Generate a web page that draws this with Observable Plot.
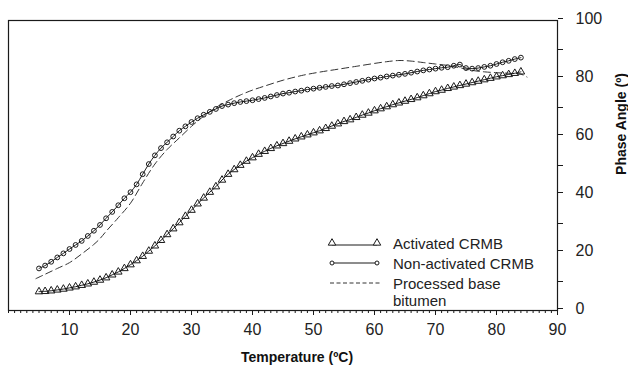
<!DOCTYPE html>
<html>
<head>
<meta charset="utf-8">
<script src="https://cdn.jsdelivr.net/npm/d3@7"></script>
<script src="https://cdn.jsdelivr.net/npm/@observablehq/plot@0.6"></script>
<style>
  body { margin: 0; background: #fff; }
  #chart { position: relative; width: 628px; height: 366px; }
</style>
</head>
<body>
<div id="chart"></div>
<script>
// Temperature (°C) at which each marker was read
const temps = d3.range(5, 85); // 5 .. 84

// Activated CRMB (triangles), phase angle (°)
const activated = [
  6.5, 6.6, 6.8, 7.1, 7.4, 7.8, 8.2, 8.7, 9.2, 9.8,
  10.5, 11.3, 12.3, 13.3, 14.5, 15.8, 17.2, 18.7, 20.5, 22.3,
  24.2, 26.2, 28.2, 30.3, 32.5, 34.6, 36.8, 38.8, 40.8, 42.7,
  45.0, 47.0, 48.6, 50.1, 51.5, 52.7, 53.9, 54.9, 55.9, 56.8,
  57.6, 58.4, 59.2, 59.9, 60.6, 61.3, 62.0, 62.8, 63.6, 64.4,
  65.2, 65.8, 66.6, 67.4, 68.1, 68.9, 69.6, 70.3, 71.0, 71.6,
  72.2, 72.8, 73.4, 74.1, 74.8, 75.5, 76.0, 76.6, 77.1, 77.6,
  78.1, 78.6, 79.1, 79.6, 80.1, 80.6, 81.0, 81.4, 81.8, 82.3
];

// Non-activated CRMB (circles), phase angle (°)
const nonActivated = [
  14.5, 15.5, 16.8, 18.3, 19.7, 21.2, 22.6, 24.0, 25.7, 27.5,
  29.5, 31.8, 34.0, 36.3, 38.7, 40.8, 43.5, 47.0, 50.5, 53.5,
  56.0, 58.0, 60.0, 62.0, 63.5, 65.0, 66.3, 67.5, 68.5, 69.5,
  70.5, 71.0, 71.5, 71.9, 72.2, 72.5, 72.9, 73.3, 73.8, 74.3,
  74.8, 75.1, 75.5, 75.8, 76.2, 76.5, 76.8, 77.1, 77.4, 77.6,
  78.0, 78.4, 78.8, 79.2, 79.6, 80.0, 80.3, 80.7, 81.0, 81.3,
  81.6, 82.0, 82.4, 82.8, 83.1, 83.4, 83.7, 83.9, 84.4, 84.8,
  83.6, 83.4, 83.6, 84.0, 84.4, 85.0, 85.6, 86.1, 86.7, 87.2
];

// Processed base bitumen (dashed line)
const baseTemps = [4.5, 6, 8, 10, 12, 14, 15, 16, 18, 20, 22, 24, 26, 28, 30, 32, 34, 36, 38, 40,
  42, 45, 48, 51, 54, 57, 60, 62, 64, 66, 68, 70, 72, 74, 76, 78, 80, 82, 84, 85];
const baseValues = [11.0, 12.5, 14.5, 16.5, 19.5, 22.8, 24.8, 27.3, 32.0, 37.0, 44.0, 50.5, 55.5, 59.5, 63.5, 67.0, 70.0, 72.3, 74.3, 76.0,
  77.4, 79.4, 81.0, 82.2, 83.2, 84.2, 85.2, 85.8, 86.2, 86.0, 85.5, 85.0, 84.5, 83.7, 82.8, 82.3, 82.0, 81.8, 81.5, 80.5];

const xMajorTicks = [10, 20, 30, 40, 50, 60, 70, 80, 90];
const xMinorTicks = d3.range(0, 91, 1);
const yMajorTicks = [0, 20, 40, 60, 80, 100];
const yMinorTicks = [10, 30, 50, 70, 90];

const seriesNames = ["Activated CRMB", "Non-activated CRMB", "Processed base bitumen"];
const xTitle = "Temperature (ºC)";
const yTitle = "Phase Angle (º)";

const actData = temps.map((t, i) => ({t, v: activated[i]}));
const nonData = temps.map((t, i) => ({t, v: nonActivated[i]}));
const baseData = baseTemps.map((t, i) => ({t, v: baseValues[i]}));

const ink = "#1a1a1a";
const font = "'Liberation Sans', Arial, sans-serif";

const svg = Plot.plot({
  width: 628,
  height: 366,
  marginLeft: 8,
  marginRight: 71,
  marginTop: 20,
  marginBottom: 56,
  style: {fontFamily: font, fontSize: "16px", color: "#222", background: "#fff"},
  x: {domain: [0, 90]},
  y: {domain: [0, 100]},
  marks: [
    Plot.axisX({ticks: xMinorTicks, tickSize: 3, tickFormat: () => "", label: null, stroke: ink}),
    Plot.axisX({ticks: xMajorTicks, tickSize: 5, tickPadding: 8, label: null, stroke: ink, fontSize: 16}),
    Plot.axisY({anchor: "right", ticks: yMinorTicks, tickSize: 5, tickFormat: () => "", label: null, stroke: ink}),
    Plot.axisY({anchor: "right", ticks: yMajorTicks, tickSize: 5, tickPadding: 13, label: null, stroke: ink, fontSize: 16, dy: -2}),
    Plot.frame({stroke: ink, strokeWidth: 1.2}),
    Plot.line(baseData, {x: "t", y: "v", stroke: "#333", strokeWidth: 1, strokeDasharray: "7,4", curve: "catmull-rom"}),
    Plot.line(nonData, {x: "t", y: "v", stroke: ink, strokeWidth: 1, curve: "catmull-rom"}),
    Plot.dot(nonData, {x: "t", y: "v", r: 2.4, stroke: ink, strokeWidth: 1, fill: "none"}),
    Plot.line(actData, {x: "t", y: "v", stroke: ink, strokeWidth: 1, curve: "catmull-rom"}),
    Plot.dot(actData, {x: "t", y: "v", symbol: "triangle", r: 2.8, stroke: ink, strokeWidth: 1, fill: "none"})
  ]
});

const root = d3.select(svg);

// Axis titles
root.append("text")
  .attr("x", 297).attr("y", 362)
  .attr("text-anchor", "middle")
  .attr("font-family", font).attr("font-size", 14).attr("font-weight", "bold")
  .attr("fill", "#111")
  .text(xTitle);
root.append("text")
  .attr("transform", "translate(626,124) rotate(-90)")
  .attr("text-anchor", "middle")
  .attr("font-family", font).attr("font-size", 14).attr("font-weight", "bold")
  .attr("fill", "#111")
  .text(yTitle);

// Legend
const lg = root.append("g").attr("font-family", font).attr("font-size", 15).attr("fill", "#222").attr("text-anchor", "start");
const tri = d3.symbol(d3.symbolTriangle2, 40);
const rows = [243, 263, 283];
// Row 1: triangles
lg.append("line").attr("x1", 332).attr("x2", 377).attr("y1", rows[0] + 2).attr("y2", rows[0] + 2).attr("stroke", ink);
[332, 377].forEach(x => lg.append("path").attr("d", tri()).attr("transform", `translate(${x},${rows[0]})`).attr("fill", "#fff").attr("stroke", ink));
// Row 2: circles
lg.append("line").attr("x1", 332).attr("x2", 377).attr("y1", rows[1]).attr("y2", rows[1]).attr("stroke", ink);
[332, 377].forEach(x => lg.append("circle").attr("cx", x).attr("cy", rows[1]).attr("r", 2).attr("fill", "#fff").attr("stroke", ink));
// Row 3: dashed
lg.append("line").attr("x1", 330).attr("x2", 381).attr("y1", rows[2]).attr("y2", rows[2]).attr("stroke", "#333").attr("stroke-dasharray", "4,2.5");
lg.append("text").attr("x", 393).attr("y", rows[0] + 5.5).text(seriesNames[0]);
lg.append("text").attr("x", 393).attr("y", rows[1] + 5.5).text(seriesNames[1]);
lg.append("text").attr("x", 393).attr("y", rows[2] + 5.5).text("Processed base");
lg.append("text").attr("x", 393).attr("y", 306).text("bitumen");

document.getElementById("chart").appendChild(svg);
</script>
</body>
</html>
